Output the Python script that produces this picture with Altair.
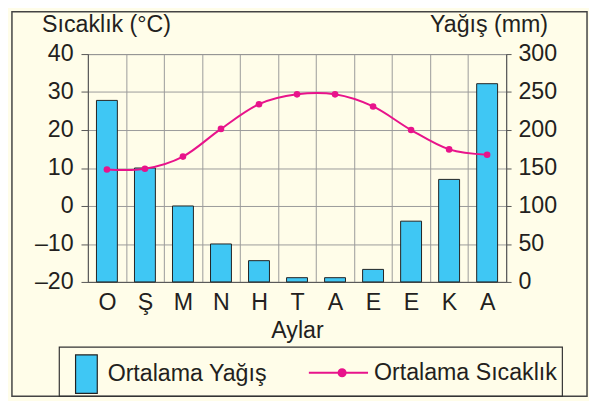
import json
import altair as alt
import pandas as pd

months = ["O", "Ş", "M", "N", "H", "T", "A", "E", "E", "K", "A"]
precip_mm = [239, 150, 100, 50, 28, 5.6, 5.6, 16.5, 80, 135, 261]
temp_c = [9.6, 9.8, 13.0, 20.3, 26.8, 29.4, 29.4, 26.2, 20.0, 14.9, 13.5]
temp_ticks = [-20, -10, 0, 10, 20, 30, 40]
precip_ticks = [0, 50, 100, 150, 200, 250, 300]
bar_label = "Ortalama Yağış"
line_label = "Ortalama Sıcaklık"

BLUE = "#3FC7F4"
MAGENTA = "#E8138B"
TEXT = "#231F20"
FONT = "Liberation Sans"
BG = "#FFFDE9"
FS = 23.5

df = pd.DataFrame({
    "idx": list(range(len(months))),
    "precip": precip_mm,
    "temp": temp_c,
    "lbl": [bar_label] * len(months),
    "lbl2": [line_label] * len(months),
})

label_expr = json.dumps(months, ensure_ascii=False) + "[datum.value]"

x_enc = alt.X(
    "idx:O",
    title="Aylar",
    scale=alt.Scale(paddingInner=0, paddingOuter=0),
    axis=alt.Axis(
        labelExpr=label_expr, labelAngle=0, labelFontSize=FS, labelPadding=9,
        labelBaseline="top", ticks=False, tickSize=0, grid=True, tickBand="extent",
        gridColor="#9A9A9A", domainColor="#555555", titleFontSize=FS,
        titleFontWeight="normal", titleY=56, titleBaseline="alphabetic",
        labelOverlap=False,
    ),
)

bars = alt.Chart(df).mark_bar(
    width=alt.RelativeBandSize(0.55), stroke="#222222", strokeWidth=1
).encode(
    x=x_enc,
    y=alt.Y(
        "precip:Q",
        scale=alt.Scale(domain=[0, 300], nice=False, zero=True),
        axis=alt.Axis(
            orient="right", values=precip_ticks, grid=False, tickSize=5,
            labelPadding=7, labelFontSize=FS, tickColor="#555555",
            domainColor="#555555", title="Yağış (mm)", titleAngle=0,
            titleAlign="right", titleX=42, titleY=-23,
            titleBaseline="alphabetic", titleFontSize=FS,
            titleFontWeight="normal", labelOverlap=False,
        ),
    ),
    fill=alt.Fill(
        "lbl:N",
        scale=alt.Scale(domain=[bar_label], range=[BLUE]),
        legend=alt.Legend(
            orient="none", legendX=-22, legendY=304, title=None, padding=0,
            symbolType="M-0.564,-1L0.564,-1L0.564,1L-0.564,1Z",
            symbolSize=1521, symbolStrokeColor="#222222",
            symbolStrokeWidth=1.2, labelFontSize=FS, labelOffset=1,
            labelLimit=300, labelFont=FONT, labelColor=TEXT,
        ),
    ),
)

temp_axis = alt.Axis(
    values=temp_ticks, tickCount=7, grid=True, gridColor="#9A9A9A", tickSize=7,
    labelPadding=8, labelFontSize=FS, tickColor="#555555",
    domainColor="#555555", labelOverlap=False,
    labelExpr="datum.value < 0 ? '\u2013' + abs(datum.value) : datum.label",
    title="Sıcaklık (°C)", titleAngle=0, titleAlign="left",
    titleX=-47, titleY=-23, titleBaseline="alphabetic",
    titleFontSize=FS, titleFontWeight="normal",
)
temp_scale = alt.Scale(domain=[-20, 40], nice=False, zero=False)

line_symbol = (
    "M-1,0L1,0"
    "M0.003,0A0.12,0.12,0,1,1,0.243,0A0.12,0.12,0,1,1,0.003,0Z"
)

line = alt.Chart(df).mark_line(interpolate="cardinal", strokeWidth=2).encode(
    x=alt.X("idx:O"),
    y=alt.Y("temp:Q", scale=temp_scale, axis=temp_axis),
    stroke=alt.Stroke(
        "lbl2:N",
        scale=alt.Scale(domain=[line_label], range=[MAGENTA]),
        legend=alt.Legend(
            orient="none", legendX=223, legendY=292, title=None, padding=0,
            symbolType=line_symbol,
            symbolSize=3600, symbolStrokeWidth=2, symbolFillColor=MAGENTA,
            labelFontSize=FS, labelOffset=5, labelLimit=300,
            labelFont=FONT, labelColor=TEXT,
        ),
    ),
)

points = alt.Chart(df).mark_circle(size=45, color=MAGENTA, opacity=1).encode(
    x=alt.X("idx:O"),
    y=alt.Y("temp:Q", scale=temp_scale, axis=temp_axis),
)

temp_layer = alt.layer(line, points)

one = pd.DataFrame({"k": [0]})
frame = alt.Chart(one).mark_rect(fill=None, stroke="#444444", strokeWidth=1.5).encode(
    x=alt.value(-77), x2=alt.value(506), y=alt.value(-43), y2=alt.value(347)
)
legend_box = alt.Chart(one).mark_rect(fill=None, stroke="#333333", strokeWidth=1.2).encode(
    x=alt.value(-29), x2=alt.value(481), y=alt.value(297), y2=alt.value(347)
)

chart = alt.layer(bars, temp_layer, frame, legend_box).resolve_scale(
    y="independent"
).properties(
    width=424, height=231,
    autosize=alt.AutoSizeParams(type="none"),
    padding={"left": 81, "top": 44, "right": 84, "bottom": 118},
    background=BG,
).configure_view(
    stroke="#555555", strokeWidth=1
).configure_axis(
    labelFont=FONT, titleFont=FONT, labelColor=TEXT, titleColor=TEXT,
).configure_legend(
    labelFont=FONT
)

chart.save("out.html", embed_options={"renderer": "svg", "actions": False})
